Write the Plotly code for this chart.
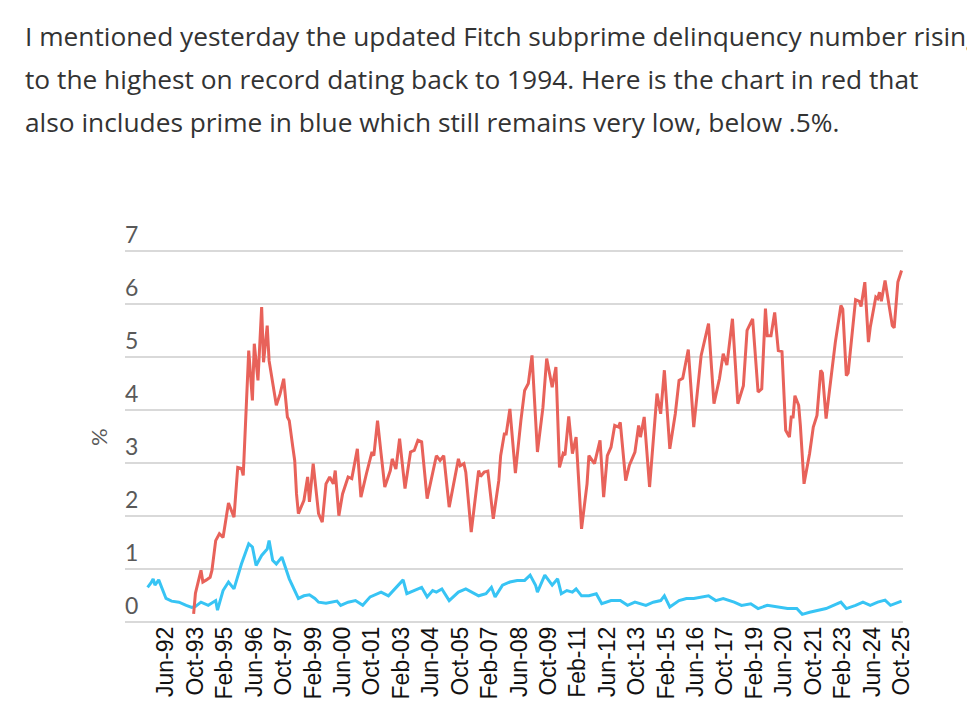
import plotly.graph_objects as go

# ---- data ----
red_dates = ["1993-09","1993-10","1994-01","1994-02","1994-04","1994-06","1994-07","1994-09","1994-11","1995-01",
 "1995-04","1995-07","1995-09","1995-11","1995-12","1996-03","1996-05","1996-06","1996-08","1996-09",
 "1996-10","1996-11","1997-01","1997-02","1997-06","1997-08","1997-10","1997-12","1998-01","1998-03",
 "1998-04","1998-05","1998-06","1998-09","1998-11","1998-12","1999-02","1999-05","1999-07","1999-09",
 "1999-11","2000-01","2000-02","2000-04","2000-06","2000-09","2000-11","2001-02","2001-04","2001-07",
 "2001-10","2001-11","2002-01","2002-03","2002-05","2002-08","2002-09","2002-11","2003-01","2003-04",
 "2003-07","2003-09","2003-11","2004-01","2004-04","2004-09","2004-11","2005-01","2005-04","2005-09",
 "2005-10","2005-12","2006-01","2006-04","2006-08","2006-09","2006-11","2007-01","2007-04","2007-07",
 "2007-08","2007-10","2007-11","2008-01","2008-04","2008-07","2008-09","2008-11","2009-01","2009-04",
 "2009-07","2009-09","2009-12","2010-02","2010-04","2010-06","2010-07","2010-09","2010-11","2011-01",
 "2011-04","2011-07","2011-08","2011-11","2012-02","2012-04","2012-06","2012-08","2012-10","2012-12",
 "2013-01","2013-04","2013-06","2013-09","2013-11","2013-12","2014-02","2014-05","2014-07","2014-09",
 "2014-11","2015-01","2015-04","2015-07","2015-09","2015-11","2016-02","2016-05","2016-09","2017-01",
 "2017-04","2017-07","2017-09","2017-11","2018-02","2018-05","2018-08","2018-10","2019-01","2019-04",
 "2019-06","2019-08","2019-09","2019-11","2020-01","2020-03","2020-05","2020-07","2020-09","2020-10",
 "2020-11","2020-12","2021-02","2021-03","2021-05","2021-08","2021-10","2021-12","2022-02","2022-03",
 "2022-05","2022-09","2022-10","2023-01","2023-02","2023-04","2023-05","2023-09","2023-11","2023-12",
 "2024-02","2024-04","2024-05","2024-08","2024-09","2024-10","2024-11","2025-01","2025-05","2025-06",
 "2025-08","2025-10"]
red_values = [0.16,0.55,0.98,0.76,0.80,0.85,0.98,1.54,1.67,1.60,
 2.25,1.98,2.92,2.90,2.77,5.12,4.18,5.25,4.56,5.25,
 5.94,4.90,5.59,4.93,4.09,4.30,4.59,3.87,3.80,3.30,
 3.05,2.42,2.05,2.30,2.74,2.27,2.99,2.05,1.89,2.61,
 2.74,2.61,2.86,2.01,2.42,2.74,2.71,3.27,2.36,2.80,
 3.21,3.14,3.80,3.18,2.55,2.86,3.08,2.89,3.46,2.52,
 3.21,3.24,3.43,3.40,2.33,3.14,3.05,3.14,2.17,3.08,
 2.95,2.99,2.83,1.70,2.86,2.75,2.83,2.85,1.95,2.67,
 3.14,3.55,3.55,4.02,2.81,3.80,4.37,4.50,5.03,3.21,
 4.05,4.97,4.43,4.81,2.92,3.18,3.15,3.88,3.18,3.49,
 1.76,2.61,3.14,2.99,3.43,2.36,3.14,3.30,3.71,3.68,
 3.77,2.67,2.96,3.21,3.71,3.49,3.87,2.55,3.37,4.31,
 3.93,4.75,3.27,3.93,4.56,4.60,5.14,3.68,5.03,5.63,
 4.12,4.59,5.06,4.85,5.72,4.12,4.46,5.50,5.72,4.34,
 4.40,5.91,5.40,5.40,5.84,5.12,5.10,3.62,3.49,3.87,
 3.87,4.27,4.09,3.71,2.61,3.18,3.68,3.90,4.75,4.70,
 3.84,5.06,5.28,5.97,5.90,4.65,4.70,6.08,6.05,5.95,
 6.41,5.28,5.56,6.13,6.10,6.22,6.05,6.44,5.59,5.55,
 6.41,6.63]

blue_dates = ["1991-08","1991-10","1991-11","1991-12","1992-02","1992-06","1992-09","1993-01","1993-05","1993-08",
 "1993-10","1994-01","1994-05","1994-09","1994-10","1995-01","1995-04","1995-07","1995-11","1996-03",
 "1996-05","1996-07","1996-10","1997-01","1997-02","1997-04","1997-06","1997-09","1998-01","1998-06",
 "1998-09","1998-12","1999-03","1999-05","1999-09","2000-03","2000-05","2000-09","2001-01","2001-05",
 "2001-09","2002-03","2002-07","2002-11","2003-03","2003-05","2003-09","2004-01","2004-04","2004-07",
 "2004-09","2004-12","2005-04","2005-09","2006-01","2006-04","2006-08","2006-12","2007-03","2007-05",
 "2007-09","2008-01","2008-05","2008-09","2008-12","2009-03","2009-04","2009-08","2009-12","2010-03",
 "2010-05","2010-08","2010-11","2011-01","2011-04","2011-08","2011-12","2012-03","2012-08","2013-01",
 "2013-05","2013-09","2014-03","2014-07","2014-11","2015-01","2015-04","2015-09","2016-01","2016-05",
 "2016-09","2017-01","2017-05","2017-09","2018-03","2018-07","2018-12","2019-04","2019-09","2020-03",
 "2020-08","2021-01","2021-04","2021-08","2021-12","2022-05","2023-01","2023-04","2023-09","2024-01",
 "2024-05","2024-09","2025-01","2025-04","2025-10"]
blue_values = [0.66,0.75,0.82,0.70,0.80,0.45,0.40,0.38,0.32,0.28,
 0.30,0.38,0.32,0.41,0.23,0.60,0.76,0.63,1.10,1.48,
 1.42,1.07,1.26,1.38,1.54,1.17,1.10,1.23,0.82,0.45,
 0.50,0.52,0.45,0.38,0.36,0.40,0.32,0.38,0.41,0.32,
 0.48,0.57,0.50,0.66,0.80,0.54,0.60,0.66,0.48,0.60,
 0.57,0.63,0.41,0.57,0.63,0.57,0.50,0.54,0.66,0.48,
 0.70,0.76,0.79,0.79,0.89,0.70,0.57,0.89,0.70,0.82,
 0.54,0.60,0.57,0.63,0.50,0.50,0.54,0.35,0.41,0.41,
 0.32,0.38,0.32,0.38,0.41,0.50,0.29,0.41,0.45,0.45,
 0.48,0.50,0.41,0.45,0.38,0.32,0.35,0.26,0.32,0.29,
 0.26,0.26,0.15,0.19,0.22,0.26,0.38,0.26,0.32,0.38,
 0.32,0.38,0.42,0.32,0.40]

tick_dates = ["1992-06","1993-10","1995-02","1996-06","1997-10","1999-02","2000-06","2001-10","2003-02",
 "2004-06","2005-10","2007-02","2008-06","2009-10","2011-02","2012-06","2013-10","2015-02","2016-06",
 "2017-10","2019-02","2020-06","2021-10","2023-02","2024-06","2025-10"]
tick_labels = ["Jun-92","Oct-93","Feb-95","Jun-96","Oct-97","Feb-99","Jun-00","Oct-01","Feb-03",
 "Jun-04","Oct-05","Feb-07","Jun-08","Oct-09","Feb-11","Jun-12","Oct-13","Feb-15","Jun-16",
 "Oct-17","Feb-19","Jun-20","Oct-21","Feb-23","Jun-24","Oct-25"]
y_ticks = [0, 1, 2, 3, 4, 5, 6, 7]

intro_lines = [
    "I mentioned yesterday the updated Fitch subprime delinquency number rising",
    "to the highest on record dating back to 1994. Here is the chart in red that",
    "also includes prime in blue which still remains very low, below .5%.",
]

# ---- figure geometry (page has an 8px body margin) ----
W, H = 975, 724
OFF = 8
L, R, T, B = 117, 80, 211, 107
pw, ph = W - L - R, H - T - B

def px_to_paper_x(px):
    return (px - OFF - L) / pw

def py_to_paper_y(py):
    return (H - B - (py - OFF)) / ph

fig = go.Figure()
fig.add_trace(go.Scatter(x=blue_dates, y=blue_values, mode="lines",
                         line=dict(color="#37C4F4", width=3), name="Prime"))
fig.add_trace(go.Scatter(x=red_dates, y=red_values, mode="lines",
                         line=dict(color="#E8625A", width=3), name="Subprime"))

annotations = []
for i, line in enumerate(intro_lines):
    annotations.append(dict(
        text=line, xref="paper", yref="paper",
        x=px_to_paper_x(23), y=py_to_paper_y(36 + 43 * i),
        xanchor="left", yanchor="middle", showarrow=False,
        font=dict(family="Open Sans", size=26.3, color="#333333")))
annotations.append(dict(
    text="%", xref="paper", yref="paper",
    x=px_to_paper_x(98), y=py_to_paper_y(437), textangle=-90,
    xanchor="center", yanchor="middle", showarrow=False,
    font=dict(family="Lato", size=22, color="#595959")))

fig.update_layout(
    width=W, height=H,
    margin=dict(l=L, r=R, t=T, b=B),
    paper_bgcolor="white", plot_bgcolor="white",
    showlegend=False,
    annotations=annotations,
    xaxis=dict(
        type="date", range=["1990-07-23", "2025-10-25"],
        tickmode="array", tickvals=tick_dates, ticktext=tick_labels,
        tickangle=-90, showgrid=False, zeroline=False, showline=False,
        ticks="", ticklen=0, ticklabelstandoff=-4,
        tickfont=dict(family="Liberation Sans", size=23, color="#111111"),
    ),
    yaxis=dict(
        range=[-0.05, 7.6], tickmode="array", tickvals=y_ticks,
        showgrid=True, gridcolor="#D9D9D9", gridwidth=1.5, zeroline=False,
        showline=False, ticks="", ticklabelposition="inside top",
        ticklabelstandoff=-3,
        tickfont=dict(family="Lato", size=23, color="#595959"),
    ),
)

fig.write_html("out.html")
